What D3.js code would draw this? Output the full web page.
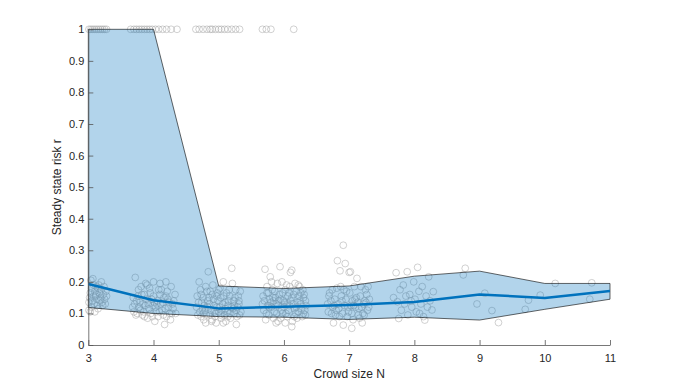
<!DOCTYPE html>
<html>
<head>
<meta charset="utf-8">
<script src="https://cdn.jsdelivr.net/npm/d3@7"></script>
<style>
  body { margin: 0; background: #fff; }
  text { font-family: Helvetica, "Liberation Sans", Arial, sans-serif; fill: #262626; }
</style>
</head>
<body>
<div id="svg-card"></div>
<script>
// crowd sizes and summary curves
var crowdN = [3, 4, 5, 6, 7, 8, 9, 10, 11];
var meanRisk  = [0.193, 0.142, 0.116, 0.121, 0.127, 0.136, 0.160, 0.149, 0.171];
var upperRisk = [1.000, 1.000, 0.187, 0.179, 0.187, 0.218, 0.234, 0.195, 0.195];
var lowerRisk = [0.119, 0.100, 0.090, 0.088, 0.081, 0.088, 0.079, 0.113, 0.145];

var xTicks = [3, 4, 5, 6, 7, 8, 9, 10, 11];
var yTicks = [0, 0.1, 0.2, 0.3, 0.4, 0.5, 0.6, 0.7, 0.8, 0.9, 1];

// individual runs (jittered crowd size, steady state risk)
var runsTop = [[3.01,1],[3.04,1],[3.07,1],[3.1,1],[3.13,1],[3.16,1],[3.19,1],[3.22,1],[3.25,1],[3.28,1],
  [3.65,1],[3.7,1],[3.74,1],[3.78,1],[3.82,1],[3.86,1],[3.9,1],[3.94,1],[3.98,1],[4.03,1],[4.08,1],[4.14,1],[4.2,1],[4.27,1],[4.36,1],
  [4.65,1],[4.7,1],[4.76,1],[4.82,1],[4.87,1],[4.9,1],[4.95,1],[5.0,1],[5.04,1],[5.09,1],[5.14,1],[5.2,1],[5.26,1],[5.32,1],
  [5.67,1],[5.73,1],[5.8,1],[6.15,1]];
var runsN3 = [[3.01,0.11],[3.03,0.105],[3.05,0.12],[3.02,0.15],[3.04,0.205],[3.07,0.21],[3.08,0.19],[3.1,0.17],[3.12,0.16],
  [3.06,0.14],[3.09,0.13],[3.13,0.145],[3.15,0.18],[3.17,0.165],[3.19,0.15],[3.21,0.135],[3.14,0.125],[3.11,0.155],
  [3.16,0.19],[3.2,0.175],[3.23,0.16],[3.25,0.145],[3.18,0.14],[3.22,0.125],[3.27,0.17],[3.03,0.165],[3.05,0.18],
  [3.08,0.155],[3.12,0.185],[3.24,0.185],[3.26,0.13],[3.01,0.135],[3.15,0.115],[3.2,0.2],[3.1,0.105],[3.28,0.155]];
var runsN4 = [[3.68,0.12],[3.72,0.214],[3.75,0.1],[3.79,0.135],[3.82,0.16],[3.86,0.09],[3.9,0.19],[3.93,0.115],[3.97,0.145],
  [4.0,0.2],[4.04,0.105],[4.08,0.175],[4.11,0.13],[4.15,0.095],[4.19,0.155],[4.23,0.12],[4.27,0.185],[4.31,0.14],[4.34,0.1],
  [3.69,0.15],[3.73,0.095],[3.77,0.175],[3.8,0.11],[3.84,0.13],[3.88,0.195],[3.91,0.085],[3.95,0.165],[3.99,0.125],
  [4.02,0.075],[4.06,0.14],[4.1,0.195],[4.13,0.11],[4.17,0.065],[4.21,0.17],[4.25,0.1],[4.29,0.13],[4.33,0.16],
  [3.7,0.105],[3.74,0.14],[3.78,0.12],[3.81,0.185],[3.85,0.105],[3.89,0.145],[3.92,0.13],[3.96,0.1],[4.0,0.155],
  [4.03,0.12],[4.07,0.09],[4.1,0.16],[4.14,0.135],[4.18,0.115],[4.22,0.145],[4.26,0.08],[4.3,0.115],
  [3.76,0.155],[3.83,0.095],[3.87,0.125],[3.94,0.18],[3.98,0.09],[4.05,0.13],[4.09,0.105],[4.16,0.15],[4.2,0.09],
  [4.24,0.135],[4.28,0.1],[3.71,0.13],[3.86,0.16],[4.01,0.135],[4.12,0.175],[4.19,0.2]];
var runsN5 = [[4.66,0.12],[4.7,0.2],[4.73,0.09],[4.76,0.15],[4.79,0.11],[4.82,0.17],[4.84,0.232],[4.86,0.13],[4.89,0.075],
  [4.92,0.145],[4.95,0.1],[4.98,0.165],[5.01,0.12],[5.04,0.085],[5.07,0.2],[5.1,0.135],[5.13,0.105],[5.16,0.175],
  [5.2,0.243],[5.22,0.115],[5.25,0.15],[5.28,0.09],[5.31,0.13],[5.33,0.17],
  [4.67,0.155],[4.71,0.105],[4.74,0.135],[4.77,0.08],[4.8,0.185],[4.83,0.12],[4.87,0.095],[4.9,0.16],[4.93,0.125],
  [4.96,0.07],[4.99,0.14],[5.02,0.18],[5.05,0.11],[5.08,0.155],[5.11,0.075],[5.14,0.125],[5.17,0.1],[5.21,0.195],
  [5.24,0.125],[5.27,0.11],[5.3,0.155],[5.32,0.095],
  [4.68,0.095],[4.72,0.175],[4.75,0.115],[4.78,0.125],[4.81,0.095],[4.85,0.15],[4.88,0.11],[4.91,0.19],[4.94,0.09],
  [4.97,0.12],[5.0,0.105],[5.03,0.15],[5.06,0.13],[5.09,0.095],[5.12,0.165],[5.15,0.14],[5.18,0.085],[5.23,0.14],
  [5.26,0.175],[5.29,0.12],[5.34,0.105],
  [4.69,0.135],[4.76,0.1],[4.83,0.14],[4.9,0.08],[4.97,0.155],[5.03,0.095],[5.1,0.115],[5.17,0.155],[5.24,0.1],
  [5.31,0.14],[4.73,0.16],[4.87,0.17],[5.0,0.175],[5.14,0.09],[5.27,0.065],[4.8,0.07],[4.93,0.105],[5.07,0.07],[5.2,0.12]];
var runsN6 = [[5.67,0.13],[5.71,0.24],[5.73,0.1],[5.76,0.165],[5.79,0.216],[5.81,0.12],[5.84,0.085],[5.87,0.15],[5.9,0.195],
  [5.94,0.248],[5.96,0.11],[5.99,0.14],[6.02,0.175],[6.05,0.09],[6.08,0.125],[6.1,0.23],[6.12,0.237],[6.15,0.16],
  [6.18,0.1],[6.21,0.135],[6.24,0.185],[6.27,0.115],[6.3,0.15],[6.33,0.095],
  [5.68,0.155],[5.72,0.08],[5.75,0.125],[5.78,0.145],[5.82,0.175],[5.85,0.105],[5.88,0.13],[5.91,0.075],[5.93,0.16],
  [5.97,0.2],[6.0,0.12],[6.03,0.1],[6.06,0.155],[6.09,0.185],[6.12,0.058],[6.14,0.13],[6.17,0.195],[6.2,0.085],
  [6.23,0.155],[6.26,0.13],[6.29,0.175],[6.32,0.11],
  [5.69,0.11],[5.74,0.185],[5.77,0.095],[5.8,0.135],[5.83,0.15],[5.86,0.17],[5.89,0.1],[5.92,0.14],[5.95,0.085],
  [5.98,0.165],[6.01,0.135],[6.04,0.19],[6.07,0.11],[6.1,0.14],[6.13,0.075],[6.16,0.115],[6.19,0.17],[6.22,0.105],
  [6.25,0.14],[6.28,0.09],[6.31,0.16],[6.34,0.125],
  [5.7,0.14],[5.77,0.12],[5.84,0.14],[5.91,0.125],[5.98,0.1],[6.05,0.13],[6.12,0.15],[6.19,0.12],[6.26,0.165],
  [6.33,0.14],[5.74,0.165],[5.88,0.07],[6.02,0.07],[6.16,0.09],[6.3,0.1],[5.81,0.2],[5.95,0.145],[6.08,0.165],[6.22,0.19]];
var runsN7 = [[6.67,0.13],[6.7,0.165],[6.73,0.1],[6.76,0.07],[6.78,0.145],[6.81,0.18],[6.82,0.267],[6.84,0.115],[6.86,0.235],
  [6.88,0.155],[6.91,0.316],[6.91,0.063],[6.93,0.125],[6.94,0.258],[6.96,0.17],[6.99,0.105],[7.0,0.23],[7.02,0.232],
  [7.04,0.053],[7.05,0.14],[7.08,0.185],[7.1,0.12],[7.12,0.211],[7.14,0.095],[7.17,0.155],[7.2,0.07],[7.22,0.13],
  [7.25,0.175],[7.28,0.11],[7.31,0.145],
  [6.68,0.105],[6.72,0.14],[6.75,0.12],[6.79,0.095],[6.83,0.13],[6.87,0.185],[6.9,0.1],[6.95,0.145],[6.98,0.12],
  [7.01,0.165],[7.04,0.1],[7.07,0.125],[7.11,0.15],[7.15,0.115],[7.18,0.185],[7.21,0.1],[7.24,0.14],[7.27,0.16],[7.3,0.12],
  [6.69,0.155],[6.74,0.175],[6.77,0.125],[6.8,0.11],[6.85,0.09],[6.89,0.14],[6.92,0.175],[6.97,0.09],[7.03,0.125],
  [7.06,0.08],[7.09,0.145],[7.13,0.135],[7.16,0.085],[7.19,0.12],[7.23,0.095],[7.26,0.135],[7.29,0.185]];
var runsN8 = [[7.68,0.15],[7.72,0.229],[7.74,0.137],[7.76,0.084],[7.78,0.175],[7.8,0.11],[7.83,0.19],[7.85,0.13],[7.89,0.232],
  [7.9,0.095],[7.93,0.16],[7.96,0.12],[7.99,0.2],[8.01,0.145],[8.03,0.105],[8.05,0.246],[8.07,0.17],[8.1,0.13],
  [8.12,0.185],[8.14,0.09],[8.16,0.079],[8.18,0.155],[8.2,0.12],[8.22,0.216],[8.24,0.14],[8.27,0.111],[8.29,0.169],
  [7.87,0.155],[8.08,0.1],[7.95,0.14]];
var runsN9 = [[8.78,0.243],[8.75,0.222],[9.08,0.164],[8.96,0.13],[9.19,0.109],[9.29,0.071]];
var runsN10 = [[10.16,0.195],[9.93,0.158],[9.75,0.142],[9.7,0.113]];
var runsN11 = [[10.72,0.197],[10.69,0.145]];

var width = 674, height = 388;
var svg = d3.select("#svg-card").append("svg")
    .attr("width", width)
    .attr("height", height);

var xScale = d3.scaleLinear().domain([3, 11]).range([88.3, 610]);
var yScale = d3.scaleLinear().domain([0, 1]).range([345, 29.3]);

var runs = [].concat(runsN3, runsN4, runsN5, runsN6, runsN7, runsN8, runsN9, runsN10, runsN11, runsTop)
    .filter(function(d){ return d[0] >= 3 && d[0] <= 11; });

svg.append("g").selectAll("circle")
    .data(runs)
    .enter().append("circle")
    .attr("cx", function(d){ return xScale(d[0]); })
    .attr("cy", function(d){ return yScale(d[1]); })
    .attr("r", 3.4)
    .attr("fill", "none")
    .attr("stroke", "#a6a6a6")
    .attr("stroke-opacity", 0.75)
    .attr("stroke-width", 0.7);

var band = crowdN.map(function(n, i){ return {n: n, lo: lowerRisk[i], hi: upperRisk[i]}; });

// shaded range between lower and upper risk
svg.append("path")
    .datum(band)
    .attr("d", d3.area()
        .x(function(d){ return xScale(d.n); })
        .y0(function(d){ return yScale(d.lo); })
        .y1(function(d){ return yScale(d.hi); }))
    .attr("fill", "#0072bd")
    .attr("fill-opacity", 0.3)
    .attr("stroke", "#000")
    .attr("stroke-width", 0.6)
    .attr("stroke-linejoin", "round");

svg.append("path")
    .datum(crowdN.map(function(n, i){ return [n, meanRisk[i]]; }))
    .attr("d", d3.line()
        .x(function(d){ return xScale(d[0]); })
        .y(function(d){ return yScale(d[1]); }))
    .attr("fill", "none")
    .attr("stroke", "#0072bd")
    .attr("stroke-width", 2.5)
    .attr("stroke-linejoin", "round");

// axes, ticks pointing inward like matlab
var xAxis = svg.append("g")
    .attr("transform", "translate(0," + yScale(0) + ")")
    .call(d3.axisBottom(xScale).tickValues(xTicks).tickFormat(d3.format("d"))
        .tickSizeInner(-5).tickSizeOuter(0).tickPadding(9));

var yAxis = svg.append("g")
    .attr("transform", "translate(" + xScale(3) + ",0)")
    .call(d3.axisLeft(yScale).tickValues(yTicks).tickFormat(function(d){ return d === 0 || d === 1 ? d : d.toFixed(1); })
        .tickSizeInner(-5).tickSizeOuter(0).tickPadding(4));

[xAxis, yAxis].forEach(function(ax){
    ax.selectAll("path, line").attr("stroke", "#555").attr("stroke-width", 0.8);
    ax.selectAll("text").attr("font-size", "11px").attr("fill", "#262626")
        .attr("font-family", "Helvetica, 'Liberation Sans', Arial, sans-serif");
});

svg.append("text")
    .attr("x", (xScale(3) + xScale(11)) / 2)
    .attr("y", 378)
    .attr("text-anchor", "middle")
    .attr("font-size", "12px")
    .text("Crowd size N");

svg.append("text")
    .attr("transform", "translate(61," + (yScale(0) + yScale(1)) / 2 + ") rotate(-90)")
    .attr("text-anchor", "middle")
    .attr("font-size", "12px")
    .text("Steady state risk r");
</script>
</body>
</html>
